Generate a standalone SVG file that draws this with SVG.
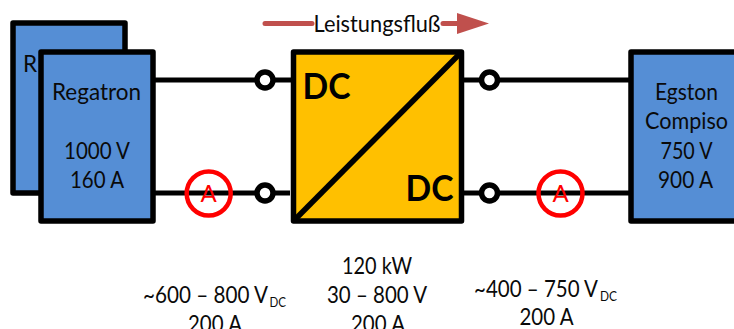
<svg xmlns="http://www.w3.org/2000/svg" width="734" height="329" viewBox="0 0 734 329">
<style>
text{font-family:Lato,Carlito,"Open Sans",sans-serif;fill:#0a0a0a;text-anchor:middle}
.t{font-size:22.500px}
.d{font-size:37px;font-weight:700;fill:#000}
.s{font-size:14px;text-anchor:start}
.st{font-size:22.500px;text-anchor:start}
.box{fill:#558ed5;stroke:#000;stroke-width:5.500;stroke-linejoin:round}
.w{fill:none;stroke:#000;stroke-width:5}
.term{fill:#fff;stroke:#000;stroke-width:5.500}
.am{fill:none;stroke:#f00;stroke-width:4.500}
.al{font-size:24px;fill:#f00}
</style>
<rect width="734" height="329" fill="#fff"/>
<g id="connectors">
<path class="w" d="M155 80H292M155 193H290M464 80H630M464 193H630"/>
<path d="M265 23.500H312M443 23.500H458" fill="none" stroke="#c0504d" stroke-width="5" stroke-linecap="round"/>
<path d="M457 13L489 23.500L457 34Z" fill="#c0504d"/>
</g>
<g id="regatron-back"><rect class="box" x="13" y="23" width="112" height="170"/><text class="t" x="30" y="72">R</text></g>
<g id="regatron"><rect class="box" x="41" y="52" width="112" height="169"/>
<text class="t" x="96.500" y="100" textLength="89" lengthAdjust="spacingAndGlyphs">Regatron</text><text class="t" x="97" y="159" textLength="66" lengthAdjust="spacingAndGlyphs">1000 V</text><text class="t" x="97" y="188" textLength="54" lengthAdjust="spacingAndGlyphs">160 A</text></g>
<g id="converter"><rect x="293.500" y="52" width="168" height="169" fill="#ffc000" stroke="#000" stroke-width="5.500" stroke-linejoin="round"/>
<path d="M293.500 221L461.500 52" fill="none" stroke="#000" stroke-width="5.500"/>
<text class="d" x="326.500" y="99" textLength="48" lengthAdjust="spacingAndGlyphs">DC</text><text class="d" x="429.500" y="201" textLength="48" lengthAdjust="spacingAndGlyphs">DC</text></g>
<g id="egston"><rect class="box" x="631" y="52" width="130" height="169"/>
<text class="t" x="686.500" y="99.500" textLength="63" lengthAdjust="spacingAndGlyphs">Egston</text><text class="t" x="686.500" y="129" textLength="83" lengthAdjust="spacingAndGlyphs">Compiso</text><text class="t" x="686.500" y="159" textLength="52" lengthAdjust="spacingAndGlyphs">750 V</text><text class="t" x="685.500" y="187.500" textLength="55" lengthAdjust="spacingAndGlyphs">900 A</text></g>
<g id="term-1"><circle class="term" cx="265" cy="80" r="8"/></g>
<g id="term-2"><circle class="term" cx="265" cy="193" r="8"/></g>
<g id="term-3"><circle class="term" cx="489.500" cy="80" r="8"/></g>
<g id="term-4"><circle class="term" cx="489.500" cy="193" r="8"/></g>
<g id="ammeter-1"><circle class="am" cx="208.700" cy="193.500" r="22"/><text class="al" x="208.700" y="202">A</text></g>
<g id="ammeter-2"><circle class="am" cx="560.500" cy="193.500" r="22"/><text class="al" x="560.500" y="202">A</text></g>
<g id="flow-label"><text class="t" x="377" y="31.500" textLength="127" lengthAdjust="spacingAndGlyphs">Leistungsfluß</text></g>
<g id="label-left"><text class="st" x="143" y="303" textLength="125" lengthAdjust="spacingAndGlyphs">~600 – 800 V</text><text class="s" x="269.500" y="307" textLength="16.500" lengthAdjust="spacingAndGlyphs">DC</text><text class="t" x="215" y="332" textLength="54" lengthAdjust="spacingAndGlyphs">200 A</text></g>
<g id="label-mid"><text class="t" x="377" y="274" textLength="70" lengthAdjust="spacingAndGlyphs">120 kW</text><text class="t" x="377" y="303" textLength="100" lengthAdjust="spacingAndGlyphs">30 – 800 V</text><text class="t" x="378" y="332" textLength="54" lengthAdjust="spacingAndGlyphs">200 A</text></g>
<g id="label-right"><text class="st" x="474" y="297" textLength="124" lengthAdjust="spacingAndGlyphs">~400 – 750 V</text><text class="s" x="600" y="301" textLength="17" lengthAdjust="spacingAndGlyphs">DC</text><text class="t" x="546.500" y="325" textLength="54" lengthAdjust="spacingAndGlyphs">200 A</text></g>
</svg>
